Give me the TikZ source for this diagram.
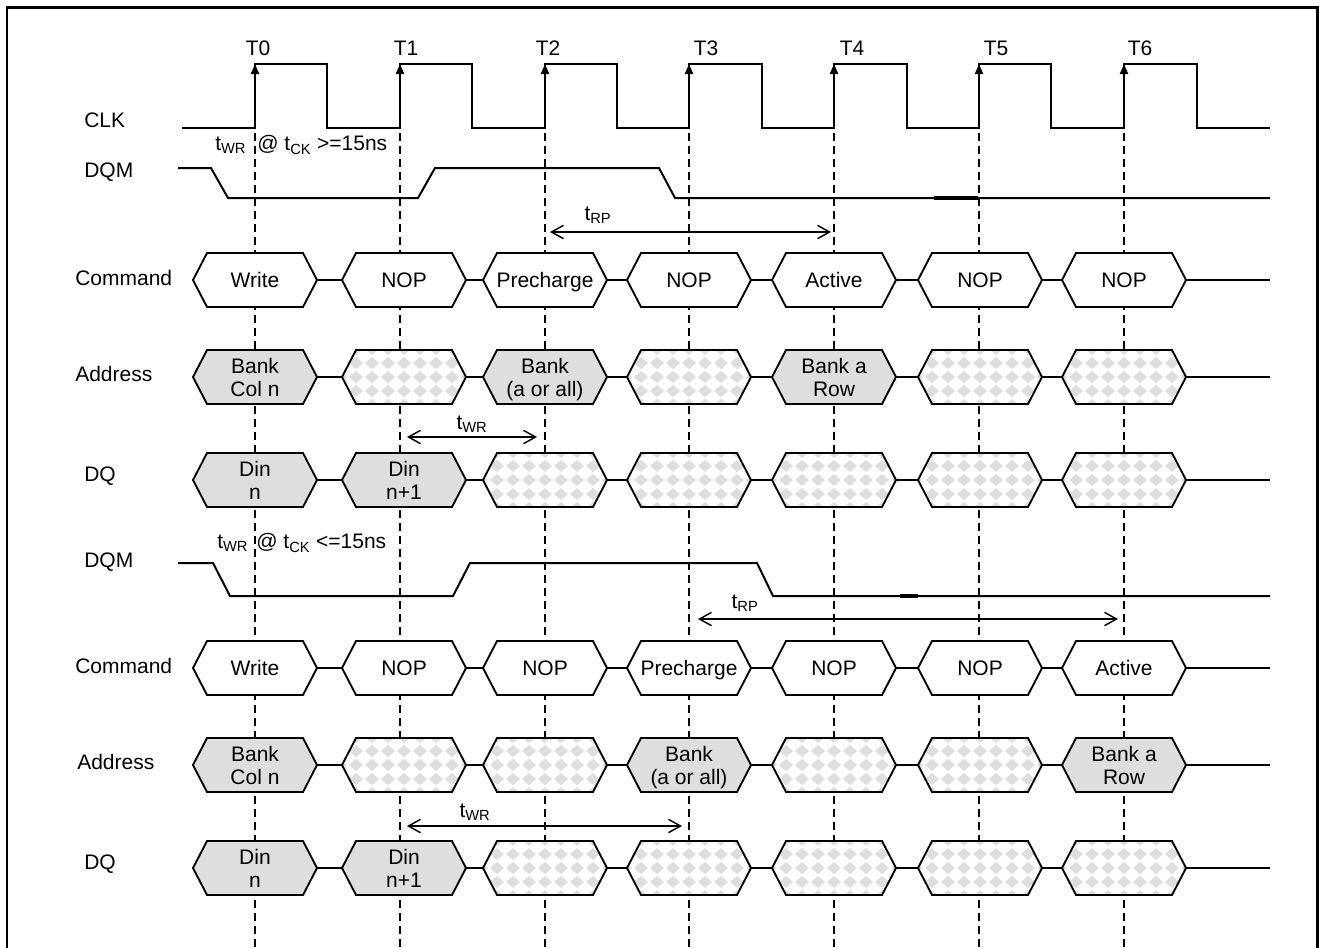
\documentclass[tikz,border=0pt]{standalone}
\usepackage{fontspec}
\setmainfont{Liberation Sans}
\usetikzlibrary{arrows.meta}
\newcommand\hx[5]{%
  \draw[hexline,#4] (#2-62,#3) -- (#2-48,#3-27) -- (#2+48,#3-27) -- (#2+62,#3) -- (#2+48,#3+27) -- (#2-48,#3+27) -- cycle;
  \node[hexnode] (#1) at (#2,#3) {#5};
}
\begin{document}
\begin{tikzpicture}[x=0.75pt,y=-0.75pt,
  every node/.style={font=\fontsize{15.75}{17.25}\selectfont, inner sep=0pt},
  wave/.style={line width=1.5pt, line join=miter},
  gridline/.style={line width=1.4pt, dash pattern=on 6pt off 3.75pt},
  hexline/.style={line width=1.4pt, line join=miter},
  plainhex/.style={fill=white},
  grayhex/.style={fill=black!13},
  checkhex/.style={fill=white, path picture={
    \foreach \i in {-4,...,4}{
      \foreach \j in {-2,...,2}{
        \fill[black!13] ([shift={(\i*16,\j*14)}]path picture bounding box.center) +(-7,0) -- +(0,-6) -- +(7,0) -- +(0,6) -- cycle;
      }}
  }},
  hexnode/.style={minimum width=93pt, minimum height=40.5pt, align=center, text depth=0pt},
  dim/.style={line width=1.1pt, >={Straight Barb[length=9pt,width=10pt]}, <->},
  lbl/.style={anchor=west},
]
\useasboundingbox (0,0) rectangle (1319,947);
% frame
\draw[line width=1.6pt] (7,960) -- (7,7.5) -- (1317.5,7.5) -- (1317.5,960);

% dashed clock grid
\foreach \x in {255,400,545,689,834,979,1124}
  \draw[gridline] (\x,133) -- (\x,947);

% clock
\draw[wave] (182,128) -- (255,128) -- (255,64) -- (327,64) -- (327,128) -- (400,128) -- (400,64) -- (472,64) -- (472,128) -- (545,128) -- (545,64) -- (617,64) -- (617,128) -- (689,128) -- (689,64) -- (762,64) -- (762,128) -- (834,128) -- (834,64) -- (907,64) -- (907,128) -- (979,128) -- (979,64) -- (1051,64) -- (1051,128) -- (1124,128) -- (1124,64) -- (1197,64) -- (1197,128) -- (1270,128);
\foreach \x in {255,400,545,689,834,979,1124}
  \draw[wave,-{Triangle[length=7.5pt,width=6pt]}] (\x,110) -- (\x,64);

% clock labels
\node (t0) at (258,48) {T0};
\node (t1) at (406,48) {T1};
\node (t2) at (548,48) {T2};
\node (t3) at (706,48) {T3};
\node (t4) at (852,48) {T4};
\node (t5) at (996,48) {T5};
\node (t6) at (1140,48) {T6};

% signal names
\node[lbl] (nclk) at (84,120) {CLK};
\node[lbl] (ndqm1) at (84,172) {DQM};
\node[lbl] (ncmd1) at (75,278) {Command};
\node[lbl] (nadr1) at (75,374) {Address};
\node[lbl] (ndq1) at (84,476) {DQ};
\node[lbl] (ndqm2) at (84,562) {DQM};
\node[lbl] (ncmd2) at (75,666) {Command};
\node[lbl] (nadr2) at (77,762) {Address};
\node[lbl] (ndq2) at (84,864) {DQ};

% timing notes
\node[lbl] (wra) at (215,145) {t\textsubscript{WR}};
\node[lbl] (wrb) at (257,145) {@ t\textsubscript{CK} >=15ns};
\node[lbl] (wrc) at (217,543) {t\textsubscript{WR}};
\node[lbl] (wrd) at (256,543) {@ t\textsubscript{CK} <=15ns};

% DQM 1
\draw[wave] (178,168) -- (211,168) -- (228,198) -- (418,198) -- (435,168) -- (659,168) -- (675,198) -- (1270,198);
\draw[line width=2.6pt] (934,198) -- (978,198);
% DQM 2
\draw[wave] (178,563) -- (213,563) -- (230,596) -- (453,596) -- (470,563) -- (757,563) -- (773,596) -- (1270,596);
\draw[line width=2.4pt] (900,596) -- (918,596);

% tRP / tWR arrows
\coordinate (rpa1) at (550,232); \coordinate (rpb1) at (831,232);
\draw[dim] (rpa1) -- (rpb1);
\node (rpl1) at (598,215) {t\textsubscript{RP}};
\coordinate (rpa2) at (698,619); \coordinate (rpb2) at (1118,619);
\draw[dim] (rpa2) -- (rpb2);
\node (rpl2) at (745,603) {t\textsubscript{RP}};
\coordinate (wpa1) at (407,437); \coordinate (wpb1) at (537,437);
\draw[dim] (wpa1) -- (wpb1);
\node (wpl1) at (472,424) {t\textsubscript{WR}};
\coordinate (wpa2) at (407,826); \coordinate (wpb2) at (682,826);
\draw[dim] (wpa2) -- (wpb2);
\node (wpl2) at (475,812) {t\textsubscript{WR}};

% ---- Row: Command 1
\hx{ca0}{255}{280}{plainhex}{Write}
\hx{ca1}{404}{280}{plainhex}{NOP}
\hx{ca2}{545}{280}{plainhex}{Precharge}
\hx{ca3}{689}{280}{plainhex}{NOP}
\hx{ca4}{834}{280}{plainhex}{Active}
\hx{ca5}{980}{280}{plainhex}{NOP}
\hx{ca6}{1124}{280}{plainhex}{NOP}
\coordinate (caE) at (1270,280);
% ---- Row: Address 1
\hx{aa0}{255}{377}{grayhex}{Bank\\Col n}
\hx{aa1}{404}{377}{checkhex}{}
\hx{aa2}{545}{377}{grayhex}{Bank\\(a or all)}
\hx{aa3}{689}{377}{checkhex}{}
\hx{aa4}{834}{377}{grayhex}{Bank a\\Row}
\hx{aa5}{980}{377}{checkhex}{}
\hx{aa6}{1124}{377}{checkhex}{}
\coordinate (aaE) at (1270,377);
% ---- Row: DQ 1
\hx{da0}{255}{480}{grayhex}{Din\\n}
\hx{da1}{404}{480}{grayhex}{Din\\n+1}
\hx{da2}{545}{480}{checkhex}{}
\hx{da3}{689}{480}{checkhex}{}
\hx{da4}{834}{480}{checkhex}{}
\hx{da5}{980}{480}{checkhex}{}
\hx{da6}{1124}{480}{checkhex}{}
\coordinate (daE) at (1270,480);
% ---- Row: Command 2
\hx{cb0}{255}{668}{plainhex}{Write}
\hx{cb1}{404}{668}{plainhex}{NOP}
\hx{cb2}{545}{668}{plainhex}{NOP}
\hx{cb3}{689}{668}{plainhex}{Precharge}
\hx{cb4}{834}{668}{plainhex}{NOP}
\hx{cb5}{980}{668}{plainhex}{NOP}
\hx{cb6}{1124}{668}{plainhex}{Active}
\coordinate (cbE) at (1270,668);
% ---- Row: Address 2
\hx{ab0}{255}{765}{grayhex}{Bank\\Col n}
\hx{ab1}{404}{765}{checkhex}{}
\hx{ab2}{545}{765}{checkhex}{}
\hx{ab3}{689}{765}{grayhex}{Bank\\(a or all)}
\hx{ab4}{834}{765}{checkhex}{}
\hx{ab5}{980}{765}{checkhex}{}
\hx{ab6}{1124}{765}{grayhex}{Bank a\\Row}
\coordinate (abE) at (1270,765);
% ---- Row: DQ 2
\hx{db0}{255}{868}{grayhex}{Din\\n}
\hx{db1}{404}{868}{grayhex}{Din\\n+1}
\hx{db2}{545}{868}{checkhex}{}
\hx{db3}{689}{868}{checkhex}{}
\hx{db4}{834}{868}{checkhex}{}
\hx{db5}{980}{868}{checkhex}{}
\hx{db6}{1124}{868}{checkhex}{}
\coordinate (dbE) at (1270,868);

% connectors between bus states
\foreach \r in {ca,aa,da,cb,ab,db}{
  \draw[hexline] (\r0.east) -- (\r1.west);
  \draw[hexline] (\r1.east) -- (\r2.west);
  \draw[hexline] (\r2.east) -- (\r3.west);
  \draw[hexline] (\r3.east) -- (\r4.west);
  \draw[hexline] (\r4.east) -- (\r5.west);
  \draw[hexline] (\r5.east) -- (\r6.west);
  \draw[hexline] (\r6.east) -- (\r E);
}
\end{tikzpicture}
\end{document}
